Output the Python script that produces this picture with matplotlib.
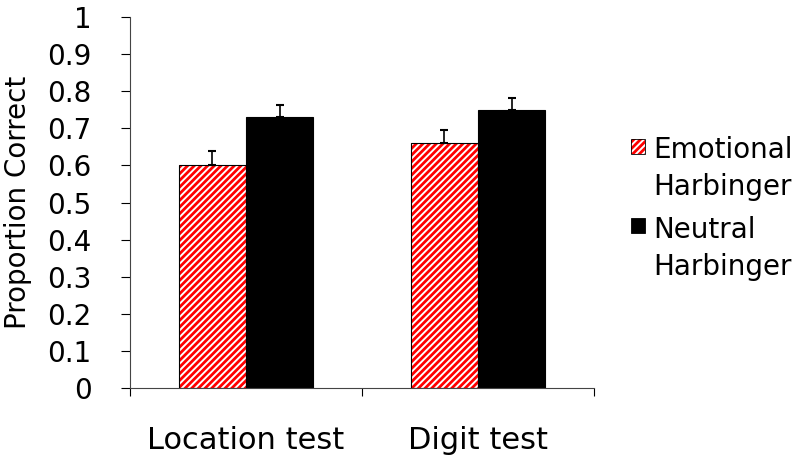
import numpy as np
import matplotlib.pyplot as plt
from matplotlib.patches import Rectangle

plt.rcParams['font.family'] = 'DejaVu Sans'
plt.rcParams['hatch.linewidth'] = 2.0

categories = ['Location test', 'Digit test']
series = ['Emotional\nHarbinger', 'Neutral\nHarbinger']
emotional = [0.60, 0.66]
emotional_err = [0.038, 0.035]
neutral = [0.73, 0.75]
neutral_err = [0.032, 0.032]

fig = plt.figure(figsize=(8, 4.61), dpi=100)
ax = fig.add_axes([0.1625, 0.158, 0.58, 0.805])

x = np.arange(len(categories))
w = 0.29

# hatched red bars, then black outline on top
ax.bar(x - w / 2, emotional, w, color='white', edgecolor='#ff0000', hatch='/////', linewidth=0)
ax.bar(x - w / 2, emotional, w, fill=False, edgecolor='black', linewidth=0.8)
ax.errorbar(x - w / 2, emotional, yerr=[np.zeros(2), emotional_err], fmt='none',
            ecolor='black', elinewidth=1.2, capsize=3, capthick=1.5)
ax.bar(x + w / 2, neutral, w, color='black', edgecolor='black', linewidth=0.8)
ax.errorbar(x + w / 2, neutral, yerr=[np.zeros(2), neutral_err], fmt='none',
            ecolor='black', elinewidth=1.2, capsize=3, capthick=1.5)

# legend drawn by hand so the swatch sits on the first text line
fig.add_artist(Rectangle((0.789, 0.666), 0.017, 0.033, transform=fig.transFigure,
                         facecolor='white', edgecolor='#ff0000', hatch='/////', linewidth=0))
fig.add_artist(Rectangle((0.789, 0.666), 0.017, 0.033, transform=fig.transFigure,
                         fill=False, edgecolor='black', linewidth=0.6))
fig.add_artist(Rectangle((0.789, 0.494), 0.017, 0.033, transform=fig.transFigure,
                         facecolor='black', edgecolor='black', linewidth=0.6))
fig.text(0.816, 0.706, series[0], fontsize=20, va='top', ha='left', linespacing=1.42)
fig.text(0.816, 0.532, series[1], fontsize=20, va='top', ha='left', linespacing=1.42)

ax.set_xlim(-0.5, 1.5)
ax.set_ylim(0, 1)
ax.set_yticks(np.arange(0, 1.01, 0.1))
ax.set_yticklabels(['0', '0.1', '0.2', '0.3', '0.4', '0.5', '0.6', '0.7', '0.8', '0.9', '1'])
ax.set_xticks([-0.5, 0.5, 1.5])
ax.set_xticklabels([])
ax.set_xticks(x, minor=True)
ax.set_xticklabels(categories, minor=True)
ax.tick_params(axis='x', which='minor', length=0, pad=27, labelsize=22)
ax.tick_params(axis='x', which='major', length=6, direction='out')
ax.tick_params(axis='y', length=6.5, direction='out', labelsize=20, pad=21)
ax.spines['top'].set_visible(False)
ax.spines['right'].set_visible(False)
for s in ['left', 'bottom']:
    ax.spines[s].set_color('#444444')
ax.set_ylabel('Proportion Correct', fontsize=20)
ax.yaxis.set_label_coords(-0.212, 0.5)

fig.savefig('out.png', dpi=100)
